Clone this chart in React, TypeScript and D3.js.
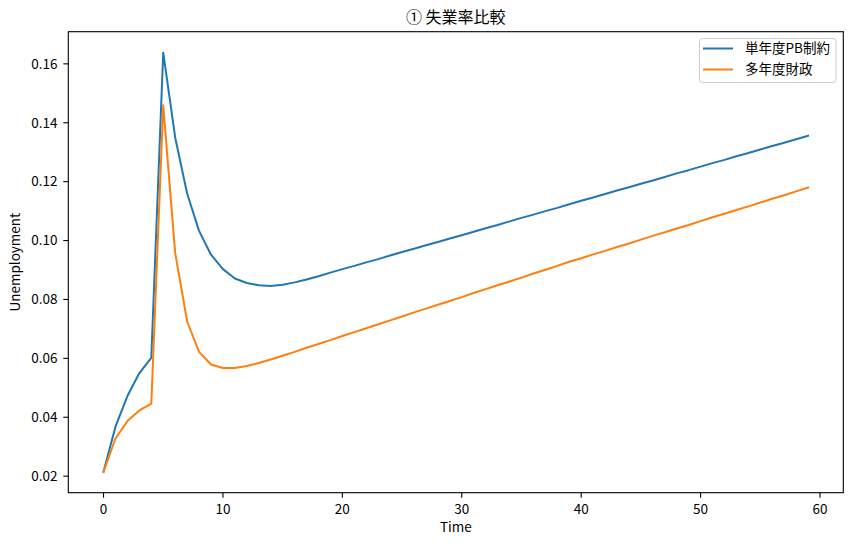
import React from "react";
import * as d3 from "d3";

const seriesNames = ["単年度PB制約", "多年度財政"];
const colors = ["#1f77b4", "#ff7f0e"];

const singleYear = [
  0.0215, 0.0368, 0.0472, 0.055, 0.0602, 0.1638, 0.135, 0.116, 0.1033, 0.0952,
  0.0903, 0.0871, 0.0856, 0.0848, 0.0846, 0.085, 0.0858, 0.0868, 0.0879, 0.0891,
  0.0903, 0.0914, 0.0926, 0.0937, 0.0949, 0.0961, 0.0972, 0.0984, 0.0995, 0.1007,
  0.1018, 0.103, 0.1042, 0.1053, 0.1065, 0.1077, 0.1088, 0.11, 0.1111, 0.1123,
  0.1135, 0.1146, 0.1158, 0.117, 0.1181, 0.1193, 0.1204, 0.1216, 0.1228, 0.1239,
  0.1251, 0.1263, 0.1274, 0.1286, 0.1297, 0.1309, 0.1321, 0.1332, 0.1344, 0.1356,
];

const multiYear = [
  0.0215, 0.0328, 0.0387, 0.0423, 0.0446, 0.1459, 0.0958, 0.0726, 0.0622, 0.0579,
  0.0567, 0.0567, 0.0574, 0.0584, 0.0596, 0.0609, 0.0622, 0.0636, 0.0649, 0.0662,
  0.0676, 0.0689, 0.0702, 0.0716, 0.0729, 0.0742, 0.0756, 0.0769, 0.0782, 0.0795,
  0.0808, 0.0822, 0.0835, 0.0848, 0.0861, 0.0874, 0.0888, 0.0901, 0.0914, 0.0928,
  0.094, 0.0953, 0.0965, 0.0978, 0.099, 0.1003, 0.1016, 0.1028, 0.1041, 0.1053,
  0.1066, 0.1079, 0.1091, 0.1104, 0.1116, 0.1129, 0.1142, 0.1154, 0.1167, 0.118,
];

const xTicks = [0, 10, 20, 30, 40, 50, 60];
const yTicks = [0.02, 0.04, 0.06, 0.08, 0.1, 0.12, 0.14, 0.16];

const W = 853;
const H = 544;
const M = { left: 68.3, right: 843.3, top: 31.7, bottom: 492.7 };
const FONT = "'Noto Sans CJK JP', 'Noto Sans', sans-serif";

export default function App() {
  const all = [singleYear, multiYear];
  const n = singleYear.length;
  const xPad = (n - 1) * 0.05;
  const yMin = d3.min(all.flat())!;
  const yMax = d3.max(all.flat())!;
  const yPad = (yMax - yMin) * 0.05;
  const x = d3.scaleLinear().domain([-xPad, n - 1 + xPad]).range([M.left, M.right]);
  const y = d3.scaleLinear().domain([yMin - yPad, yMax + yPad]).range([M.bottom, M.top]);
  const line = d3
    .line<number>()
    .x((_, i) => x(i))
    .y((d) => y(d));

  const cx = (M.left + M.right) / 2;
  const cy = (M.top + M.bottom) / 2;

  return (
    <svg
      width={W}
      height={H}
      style={{ position: "absolute", left: 0, top: 0, display: "block", background: "#fff" }}
      fontFamily={FONT}
    >
      <rect x={0} y={0} width={W} height={H} fill="#fff" />
      <text x={cx} y={23} textAnchor="middle" fontSize={16} fill="#000">
        ① 失業率比較
      </text>
      {all.map((s, i) => (
        <path key={i} d={line(s)!} fill="none" stroke={colors[i]} strokeWidth={2} strokeLinejoin="round" strokeLinecap="square" />
      ))}
      <rect
        x={M.left}
        y={M.top}
        width={M.right - M.left}
        height={M.bottom - M.top}
        fill="none"
        stroke="#000"
        strokeWidth={1.1}
      />
      {xTicks.map((t) => (
        <g key={t}>
          <line x1={x(t)} x2={x(t)} y1={M.bottom} y2={M.bottom + 5} stroke="#000" strokeWidth={1.1} />
          <text x={x(t)} y={513.5} textAnchor="middle" fontSize={13.5} fill="#000">
            {t}
          </text>
        </g>
      ))}
      {yTicks.map((t) => (
        <g key={t}>
          <line x1={M.left - 5} x2={M.left} y1={y(t)} y2={y(t)} stroke="#000" strokeWidth={1.1} />
          <text x={57.5} y={y(t) + 4.8} textAnchor="end" fontSize={13.5} fill="#000">
            {t.toFixed(2)}
          </text>
        </g>
      ))}
      <text x={cx} y={532} textAnchor="middle" fontSize={13.5} fill="#000">
        Time
      </text>
      <text
        transform={`translate(20,${cy}) rotate(-90)`}
        textAnchor="middle"
        fontSize={13.5}
        fill="#000"
      >
        Unemployment
      </text>
      <g>
        <rect x={699.5} y={38.5} width={136.5} height={44} rx={3} fill="#fff" fillOpacity={0.8} stroke="#cccccc" strokeWidth={1} />
        {seriesNames.map((name, i) => (
          <g key={name}>
            <line x1={703} x2={733} y1={48.5 + i * 21} y2={48.5 + i * 21} stroke={colors[i]} strokeWidth={2} />
            <text x={745} y={48.5 + i * 21 + 4.8} fontSize={13.5} fill="#000">
              {name}
            </text>
          </g>
        ))}
      </g>
    </svg>
  );
}
